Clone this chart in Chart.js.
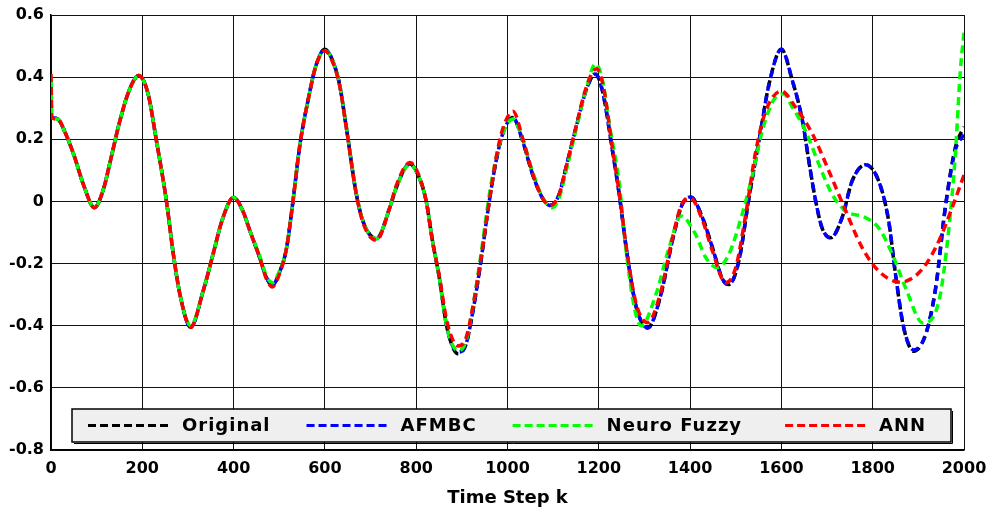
<!DOCTYPE html>
<html lang="en">
<head>
<meta charset="UTF-8">
<title>Time Step k</title>
<script src="https://cdn.jsdelivr.net/npm/chart.js"></script>
<style>
  body { margin: 0; background: #fff; }
  #box { position: relative; width: 992px; height: 509px; }
</style>
</head>
<body>
<div id="box"><canvas id="grafico"></canvas></div>
<script>
// time steps and values
const stepsOriginal = [
  0, 15, 30, 50, 72, 95, 115, 130, 151, 172,
  192, 212, 231, 253, 268, 284, 306, 333, 355, 375,
  400, 420, 437, 457, 472, 485, 500, 516, 530, 545,
  563, 581, 600, 615, 632, 647, 669, 685, 713, 742,
  756, 786, 807, 822, 836, 850, 868, 892, 909, 924,
  940, 960, 975, 990, 1012, 1033, 1055, 1077, 1093, 1113,
  1128, 1150, 1172, 1192, 1208, 1230, 1245, 1262, 1282, 1307,
  1336, 1361, 1383, 1401, 1427, 1449, 1471, 1485, 1507, 1529,
  1551, 1573, 1600, 1624, 1646, 1660, 1675, 1689, 1708, 1733,
  1755, 1784, 1813, 1835, 1850, 1868, 1890, 1916, 1938, 1959,
  1981, 2000
];
const original = [
  0.27, 0.265, 0.225, 0.15, 0.05, -0.02, 0.04, 0.13, 0.26, 0.36,
  0.405, 0.35, 0.195, 0.0, -0.17, -0.31, -0.405, -0.29, -0.17, -0.06,
  0.013, -0.03, -0.1, -0.18, -0.245, -0.27, -0.23, -0.15, 0.0, 0.18,
  0.325, 0.44, 0.49, 0.46, 0.377, 0.237, 0.022, -0.07, -0.12, -0.021,
  0.043, 0.121, 0.075, 0.0, -0.13, -0.24, -0.41, -0.49, -0.46, -0.355,
  -0.21, 0.0, 0.13, 0.22, 0.27, 0.195, 0.087, 0.01, -0.013, 0.022,
  0.108, 0.237, 0.357, 0.41, 0.356, 0.163, 0.02, -0.17, -0.34, -0.407,
  -0.30, -0.127, -0.009, 0.014, -0.052, -0.149, -0.25, -0.267, -0.19, 0.012,
  0.195, 0.378, 0.49, 0.389, 0.26, 0.131, 0.002, -0.085, -0.117, -0.052,
  0.066, 0.118, 0.066, -0.063, -0.235, -0.407, -0.482, -0.428, -0.278, -0.02,
  0.173, 0.24
];
const afmbc = [
  0.27, 0.265, 0.225, 0.15, 0.05, -0.02, 0.04, 0.13, 0.26, 0.36,
  0.405, 0.35, 0.195, 0.0, -0.17, -0.31, -0.405, -0.29, -0.17, -0.06,
  0.013, -0.03, -0.1, -0.18, -0.245, -0.27, -0.23, -0.15, 0.0, 0.18,
  0.325, 0.44, 0.49, 0.46, 0.377, 0.237, 0.022, -0.07, -0.12, -0.021,
  0.043, 0.121, 0.075, 0.0, -0.13, -0.24, -0.41, -0.485, -0.46, -0.355,
  -0.21, 0.0, 0.13, 0.22, 0.27, 0.195, 0.087, 0.01, -0.013, 0.022,
  0.108, 0.237, 0.357, 0.41, 0.356, 0.163, 0.02, -0.17, -0.34, -0.407,
  -0.30, -0.127, -0.009, 0.014, -0.052, -0.149, -0.25, -0.267, -0.19, 0.012,
  0.195, 0.378, 0.49, 0.389, 0.26, 0.131, 0.002, -0.085, -0.117, -0.052,
  0.066, 0.118, 0.066, -0.063, -0.235, -0.407, -0.478, -0.428, -0.278, -0.02,
  0.165, 0.215
];
const stepsNeuro = [
  0, 2, 15, 30, 50, 72, 95, 115, 130, 151,
  172, 192, 212, 231, 253, 268, 284, 306, 333, 355,
  375, 400, 420, 437, 457, 472, 485, 500, 516, 530,
  545, 563, 581, 600, 615, 632, 647, 669, 685, 713,
  742, 756, 786, 807, 822, 836, 850, 868, 892, 909,
  924, 940, 960, 975, 990, 1012, 1033, 1055, 1077, 1098,
  1113, 1128, 1150, 1172, 1193, 1208, 1223, 1245, 1259, 1278,
  1293, 1325, 1354, 1380, 1412, 1434, 1460, 1485, 1514, 1537,
  1558, 1587, 1605, 1624, 1653, 1682, 1711, 1741, 1784, 1813,
  1843, 1872, 1910, 1945, 1967, 1981, 1992, 2000
];
const neuroFuzzy = [
  0.41, 0.27, 0.265, 0.225, 0.15, 0.05, -0.02, 0.04, 0.13, 0.26,
  0.36, 0.405, 0.35, 0.195, 0.0, -0.17, -0.31, -0.40, -0.29, -0.17,
  -0.06, 0.013, -0.03, -0.1, -0.175, -0.24, -0.262, -0.225, -0.15, 0.0,
  0.18, 0.325, 0.44, 0.485, 0.46, 0.377, 0.24, 0.025, -0.07, -0.12,
  -0.02, 0.043, 0.118, 0.075, 0.0, -0.13, -0.24, -0.41, -0.48, -0.45,
  -0.34, -0.19, 0.02, 0.14, 0.22, 0.265, 0.2, 0.095, 0.012, -0.02,
  0.01, 0.095, 0.23, 0.36, 0.443, 0.39, 0.249, 0.055, -0.149, -0.343,
  -0.40, -0.30, -0.149, -0.047, -0.106, -0.18, -0.213, -0.17, -0.041, 0.088,
  0.227, 0.335, 0.346, 0.303, 0.227, 0.12, 0.023, -0.031, -0.052, -0.085,
  -0.17, -0.278, -0.391, -0.321, -0.085, 0.151, 0.421, 0.543
];
const stepsAnn = [
  0, 2, 15, 30, 50, 72, 95, 115, 130, 151,
  172, 192, 212, 231, 253, 268, 284, 306, 333, 355,
  375, 400, 420, 437, 457, 472, 485, 500, 516, 530,
  545, 563, 581, 600, 615, 632, 647, 669, 685, 713,
  742, 756, 786, 807, 822, 836, 850, 868, 892, 909,
  924, 940, 960, 975, 990, 1012, 1033, 1055, 1077, 1093,
  1113, 1128, 1150, 1172, 1195, 1210, 1230, 1245, 1262, 1282,
  1307, 1336, 1361, 1383, 1401, 1427, 1449, 1478, 1500, 1522,
  1544, 1566, 1600, 1631, 1668, 1704, 1741, 1777, 1813, 1860,
  1908, 1945, 1974, 2000
];
const ann = [
  0.41, 0.27, 0.265, 0.225, 0.15, 0.05, -0.02, 0.04, 0.13, 0.26,
  0.36, 0.405, 0.35, 0.195, 0.0, -0.17, -0.31, -0.405, -0.29, -0.17,
  -0.06, 0.013, -0.03, -0.1, -0.18, -0.25, -0.275, -0.235, -0.15, 0.0,
  0.18, 0.325, 0.44, 0.485, 0.455, 0.375, 0.237, 0.022, -0.075, -0.125,
  -0.02, 0.05, 0.125, 0.08, 0.0, -0.13, -0.235, -0.39, -0.465, -0.44,
  -0.34, -0.2, 0.0, 0.14, 0.235, 0.29, 0.205, 0.09, 0.01, -0.013,
  0.022, 0.108, 0.24, 0.365, 0.427, 0.37, 0.17, 0.025, -0.165, -0.33,
  -0.39, -0.29, -0.12, -0.005, 0.01, -0.06, -0.16, -0.262, -0.213, -0.041,
  0.163, 0.292, 0.355, 0.303, 0.217, 0.098, -0.031, -0.149, -0.224, -0.26,
  -0.219, -0.127, -0.02, 0.085
];
const seriesNames = ['Original', 'AFMBC', 'Neuro Fuzzy', 'ANN'];
const xTicks = [0, 200, 400, 600, 800, 1000, 1200, 1400, 1600, 1800, 2000];
const yTicks = [-0.8, -0.6, -0.4, -0.2, 0, 0.2, 0.4, 0.6];

const fonte = '"DejaVu Sans", "Liberation Sans", Arial, sans-serif';

function pontos(xs, ys) {
    return xs.map((x, i) => ({ x: x, y: ys[i] }));
}

function serie(nome, xs, ys, cor, offset, ordem) {
    return {
        label: nome,
        data: pontos(xs, ys),
        borderColor: cor,
        backgroundColor: cor,
        borderWidth: 3.5,
        borderDash: [8, 5],
        borderDashOffset: offset,
        pointRadius: 0,
        fill: false,
        cubicInterpolationMode: 'monotone',
        order: ordem
    };
}

// legend box drawn inside the plot, like the MATLAB one
const legendaDentro = {
    id: 'legendaDentro',
    afterDraw(chart) {
        const ctx = chart.ctx;
        const a = chart.chartArea;
        const x0 = a.left + 21, x1 = a.right - 13;
        const y0 = a.bottom - 41, y1 = a.bottom - 8;
        ctx.save();
        ctx.fillStyle = '#efefef';
        ctx.fillRect(x0, y0, x1 - x0, y1 - y0);
        ctx.strokeStyle = '#000';
        ctx.lineWidth = 1.5;
        ctx.strokeRect(x0, y0, x1 - x0, y1 - y0);
        ctx.lineWidth = 1;
        ctx.beginPath();
        ctx.moveTo(x0 + 2, y1 + 1.5); ctx.lineTo(x1 + 1.5, y1 + 1.5); ctx.lineTo(x1 + 1.5, y0 + 2);
        ctx.stroke();

        const yc = (y0 + y1) / 2;
        ctx.font = 'bold 18px ' + fonte;
        if ('letterSpacing' in ctx) ctx.letterSpacing = '1px';
        ctx.textBaseline = 'middle';
        ctx.textAlign = 'left';
        let x = x0 + 16;
        chart.data.datasets.forEach((ds, i) => {
            ctx.strokeStyle = ds.borderColor;
            ctx.lineWidth = 3;
            ctx.setLineDash([8, 4]);
            ctx.beginPath();
            ctx.moveTo(x, yc);
            ctx.lineTo(x + 83, yc);
            ctx.stroke();
            ctx.setLineDash([]);
            ctx.fillStyle = '#000';
            ctx.fillText(ds.label, x + 94, yc + 1);
            x += 94 + ctx.measureText(ds.label).width + (i === 2 ? 43 : 36);
        });
        ctx.restore();
    }
};

const ctx = document.getElementById('grafico').getContext('2d');
new Chart(ctx, {
    type: 'line',
    data: {
        datasets: [
            serie(seriesNames[0], stepsOriginal, original, '#000000', 8, 4),
            serie(seriesNames[1], stepsOriginal, afmbc, '#0000ff', 0, 3),
            serie(seriesNames[2], stepsNeuro, neuroFuzzy, '#00ff00', 8, 2),
            serie(seriesNames[3], stepsAnn, ann, '#ff0000', 0, 1)
        ]
    },
    options: {
        responsive: true,
        maintainAspectRatio: false,
        animation: false,
        devicePixelRatio: 1,
        layout: { padding: { top: 15, right: 28, left: 0, bottom: 0 } },
        plugins: {
            legend: { display: false },
            tooltip: { enabled: false }
        },
        scales: {
            x: {
                type: 'linear',
                min: 0,
                max: 2000,
                afterBuildTicks: (s) => { s.ticks = xTicks.map(v => ({ value: v })); },
                afterFit: (s) => { s.height = 59; s.paddingLeft = 0; s.paddingRight = 0; },
                ticks: {
                    color: '#000',
                    padding: 9,
                    maxRotation: 0,
                    font: { family: fonte, size: 16, weight: 'bold' },
                    callback: (v) => String(v)
                },
                grid: { color: '#111', lineWidth: 1, drawTicks: false },
                border: { color: '#000', width: 1.5 },
                title: {
                    display: true,
                    text: 'Time Step k',
                    color: '#000',
                    padding: { top: 0, bottom: 0 },
                    font: { family: fonte, size: 18, weight: 'bold' }
                }
            },
            y: {
                min: -0.8,
                max: 0.6,
                afterBuildTicks: (s) => { s.ticks = yTicks.map(v => ({ value: v })); },
                afterFit: (s) => { s.width = 51; s.paddingTop = 0; s.paddingBottom = 0; },
                ticks: {
                    color: '#000',
                    padding: 7,
                    font: { family: fonte, size: 16, weight: 'bold' },
                    callback: (v) => v === 0 ? '0' : v.toFixed(1)
                },
                grid: { color: '#111', lineWidth: 1, drawTicks: false },
                border: { color: '#000', width: 1.5 }
            }
        }
    },
    plugins: [legendaDentro]
});
</script>
</body>
</html>
